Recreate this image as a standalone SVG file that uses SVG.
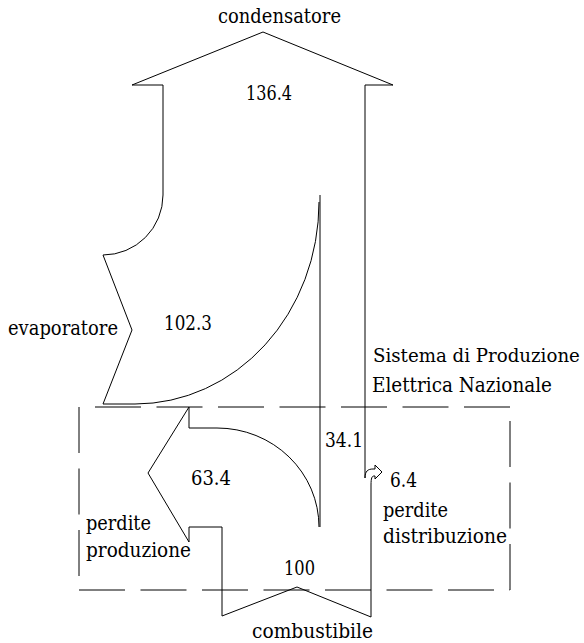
<svg xmlns="http://www.w3.org/2000/svg" width="584" height="643" viewBox="0 0 584 643">
<style>
.ln{fill:none;stroke:#000;stroke-width:1}
.dash{fill:none;stroke:#000;stroke-width:1;stroke-dasharray:46 15.5}
</style>
<rect width="584" height="643" fill="#fff"/>
<g id="boundary">
<line class="dash" x1="95" y1="407" x2="510" y2="407"/>
<line class="dash" x1="79" y1="407" x2="79" y2="590"/>
<line class="dash" x1="79" y1="590" x2="510" y2="590"/>
<line class="dash" x1="510" y1="590" x2="510" y2="407"/>
</g>
<g id="connectors">
<path id="flow-main" class="ln" d="M222,616 L297,587 L371,617 L371,485 C371,478 372,476 374,476 L375,476 L375,479 L382,472 L375,465 L375,469 L373,469 C368,469 365,471 365,478 L365,85 L393,85 L263,32 L132,85 L163,85 L163,195 A60,60 0 0 1 103,255 L132,330 L103,404 L135,404 A184,202 0 0 0 319,202"/>
<line class="ln" x1="320" y1="195" x2="320" y2="527"/>
<path id="flow-perdite-produzione" class="ln" d="M222,616 L222,527 L189,527 L189,542 L148,473 L189,407 L189,428 L217,428 A102,99 0 0 1 319,527"/>
</g>
<g id="labels" font-family="DejaVu Serif, serif" font-size="20" fill="#000">
<text x="218" y="23" textLength="123" lengthAdjust="spacingAndGlyphs">condensatore</text>
<text x="246" y="100" textLength="46" lengthAdjust="spacingAndGlyphs">136.4</text>
<text x="8" y="335" textLength="110" lengthAdjust="spacingAndGlyphs">evaporatore</text>
<text x="164" y="330" textLength="48" lengthAdjust="spacingAndGlyphs">102.3</text>
<text x="373" y="362" font-size="18.2">Sistema di Produzione</text>
<text x="372" y="392" textLength="180" lengthAdjust="spacingAndGlyphs">Elettrica Nazionale</text>
<text x="325" y="447" textLength="38" lengthAdjust="spacingAndGlyphs">34.1</text>
<text x="390" y="487" textLength="27" lengthAdjust="spacingAndGlyphs">6.4</text>
<text x="383" y="517" textLength="65" lengthAdjust="spacingAndGlyphs">perdite</text>
<text x="383" y="543" textLength="124" lengthAdjust="spacingAndGlyphs">distribuzione</text>
<text x="191" y="485" textLength="40" lengthAdjust="spacingAndGlyphs">63.4</text>
<text x="284" y="575" textLength="31" lengthAdjust="spacingAndGlyphs">100</text>
<text x="86" y="530" textLength="65" lengthAdjust="spacingAndGlyphs">perdite</text>
<text x="86" y="557" textLength="105" lengthAdjust="spacingAndGlyphs">produzione</text>
<text x="252" y="638" textLength="121" lengthAdjust="spacingAndGlyphs">combustibile</text>
</g>
</svg>
